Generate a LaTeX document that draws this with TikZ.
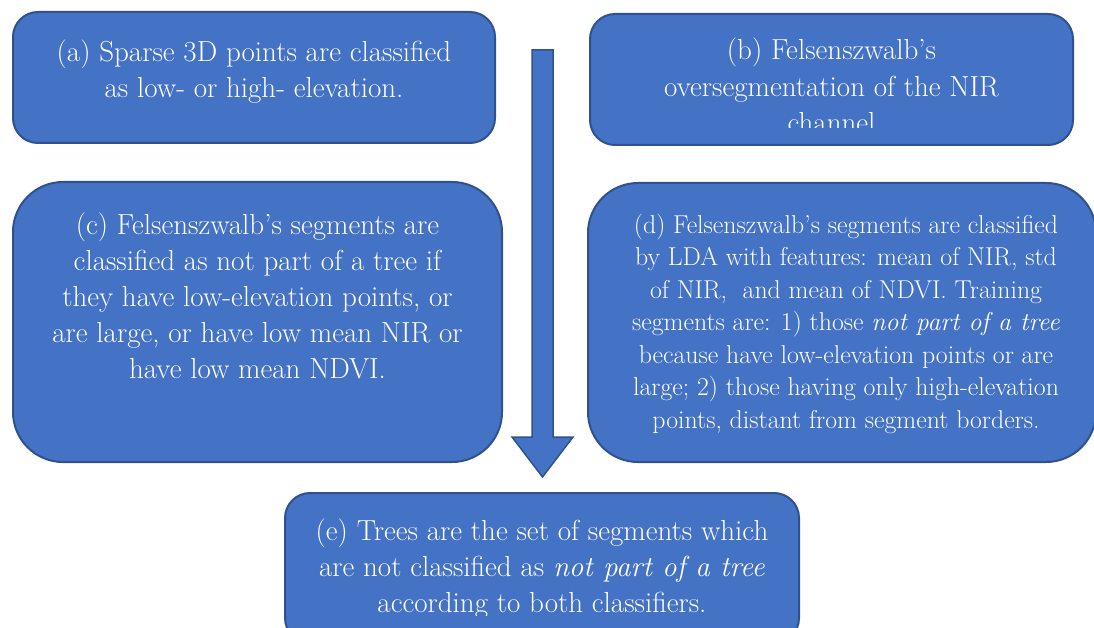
\documentclass[tikz,border=0pt]{standalone}
\usepackage{xcolor}
\definecolor{boxfill}{HTML}{4472C4}
\definecolor{boxline}{HTML}{2F528F}
\newcommand\fsz[2]{\fontsize{#1}{#2}\selectfont}
\begin{document}
\begin{tikzpicture}[x=1pt,y=-1pt,
  box/.style={draw=boxline, fill=boxfill, line width=2pt, rectangle, inner sep=0pt},
  txt/.style={text=white, align=center, inner sep=0pt, anchor=base},
  bigarrow/.style={draw=boxline, fill=boxfill, line width=1.5pt, line join=miter}]
\useasboundingbox (0,0) rectangle (1094,628);
\clip (0,0) rectangle (1094,628);
% boxes
\node[box, rounded corners=25pt, minimum width=482pt, minimum height=131pt] (a) at (254,77.5) {};
\node[box, rounded corners=25pt, minimum width=483pt, minimum height=131pt] (b) at (831.5,79.5) {};
\node[box, rounded corners=50pt, minimum width=489pt, minimum height=280pt] (c) at (257.5,322) {};
\node[box, rounded corners=50pt, minimum width=508pt, minimum height=279pt] (d) at (842,322.5) {};
\node[box, rounded corners=25pt, minimum width=514pt, minimum height=150pt] (e) at (542,568) {};
% central block arrow
\coordinate (arrtip) at (542.5,477);
\draw[bigarrow] (532,50) -- (553,50) -- (553,437) -- (573,437) -- (arrtip) -- (512,437) -- (532,437) -- cycle;
% texts (anchor base = baseline of the last line)
\node[txt, font=\fsz{29}{36}] (ta) at (254,98) {(a) Sparse 3D points are classified\\as low- or high- elevation.};
\begin{scope}
\clip (590,14) rectangle (1073,128);
\node[txt, font=\fsz{29}{36.5}] (tb) at (831.5,133) {(b) Felsenszwalb's\\oversegmentation of the NIR\\channel};
\end{scope}
\node[txt, font=\fsz{29}{35.8}] (tc) at (257.5,378) {(c) Felsenszwalb's segments are\\classified as not part of a tree if\\they have low-elevation points, or\\are large, or have low mean NIR or\\have low mean NDVI.};
\node[txt, font=\fsz{25.8}{32.5}] (td) at (846,428) {(d) Felsenszwalb's segments are classified\\by LDA with features: mean of NIR, std\\of NIR,~ and mean of NDVI. Training\\segments are: 1) those \textit{not part of a tree}\\because have low-elevation points or are\\large; 2) those having only high-elevation\\points, distant from segment borders.};
\begin{scope}
\clip (285,493) rectangle (799,615);
\node[txt, font=\fsz{29}{36}] (te) at (542,612) {(e) Trees are the set of segments which\\are not classified as \textit{not part of a tree}\\according to both classifiers.};
\end{scope}
\end{tikzpicture}
\end{document}
